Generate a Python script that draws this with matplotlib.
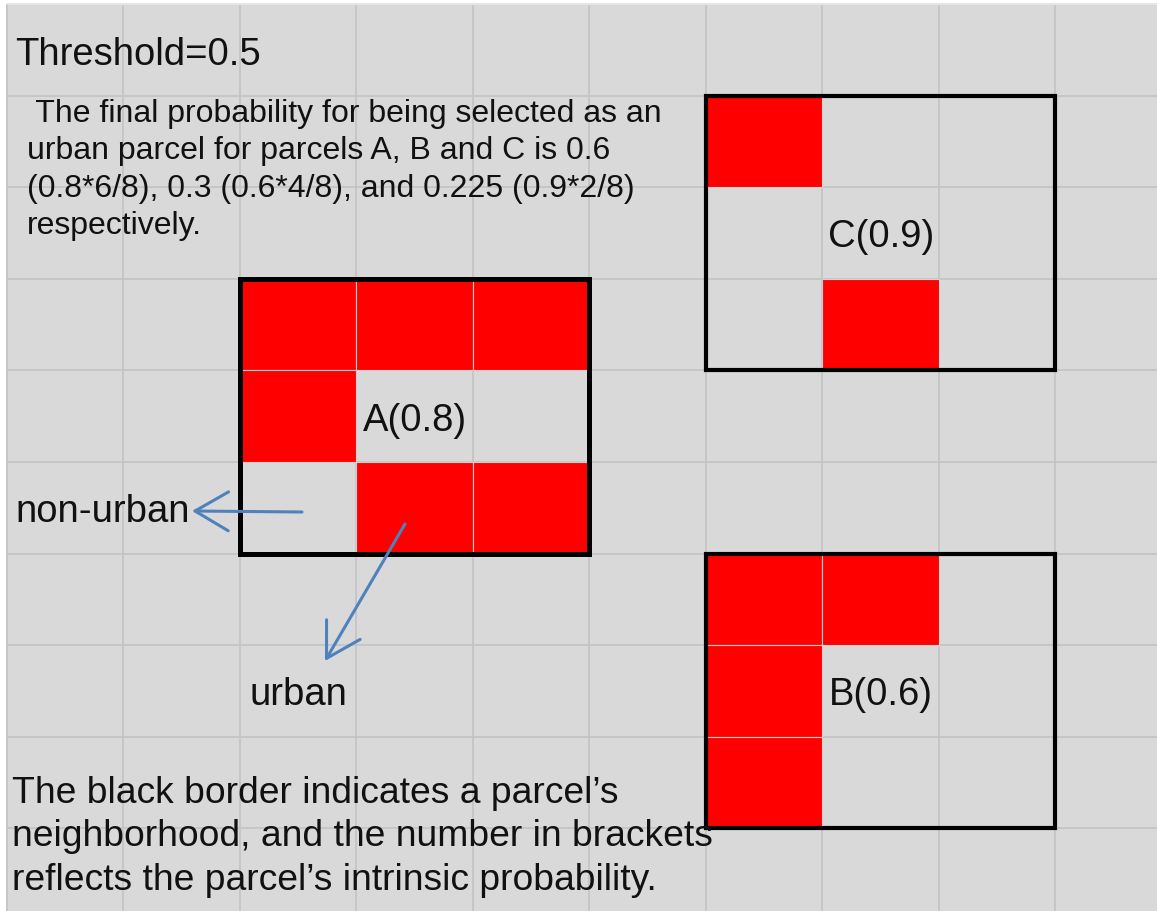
import matplotlib.pyplot as plt
from matplotlib.patches import Rectangle, FancyArrowPatch, ArrowStyle

plt.rcParams['font.family'] = ['Liberation Sans', 'DejaVu Sans']

# --- datos ---
parcels = ['A', 'B', 'C']
intrinsic_prob = [0.8, 0.6, 0.9]
# vecindario 3x3 de cada parcela (1 = urbana), fila por fila de arriba a abajo
neighborhoods = [
    [[1, 1, 1], [1, 0, 0], [0, 1, 1]],
    [[1, 1, 0], [1, 0, 0], [1, 0, 0]],
    [[1, 0, 0], [0, 0, 0], [0, 1, 0]],
]
threshold = 0.5

# celda central de cada parcela (columna, fila) en la rejilla
centers = [(3, 4), (7, 7), (7, 2)]

para_lines = [
    " The final probability for being selected as an",
    "urban parcel for parcels A, B and C is 0.6",
    "(0.8*6/8), 0.3 (0.6*4/8), and 0.225 (0.9*2/8)",
    "respectively.",
]
note_lines = [
    "The black border indicates a parcel\u2019s",
    "neighborhood, and the number in brackets",
    "reflects the parcel\u2019s intrinsic probability.",
]

# --- escala pixel -> rejilla ---
CW, CH = 116.5, 91.6   # tamano de celda en pixeles
X0, Y0 = 7, 5           # esquina de la rejilla


def g(px, py):
    return (px - X0) / CW, (py - Y0) / CH


fig = plt.figure(figsize=(11.57, 9.12), dpi=100)
ax = fig.add_axes([0, 0, 1, 1])
ax.set_xlim(-X0 / CW, (1157 - X0) / CW)
ax.set_ylim((912 - Y0) / CH, -Y0 / CH)
ax.axis('off')

ax.add_patch(Rectangle((0, 0), 12, 12, facecolor='#d9d9d9', edgecolor='none', zorder=0))
ax.vlines(range(0, 11), 0, 12, color='#c4c4c4', lw=1.3, zorder=1)
ax.hlines(range(1, 11), 0, 12, color='#c4c4c4', lw=1.3, zorder=1)
ax.hlines(0, 0, 12, color='#e6e6e6', lw=1.5, zorder=1)

text_kw = dict(color='#111111')

for name, p, nb, (cx, cy) in zip(parcels, intrinsic_prob, neighborhoods, centers):
    for r in range(3):
        for c in range(3):
            if nb[r][c]:
                ax.add_patch(Rectangle((cx - 1 + c, cy - 1 + r), 1, 1, facecolor='#ff0000',
                                       edgecolor='#d2d2d2', lw=0.8, zorder=2))
    lw = 3.6 if name == 'A' else 3.0
    ax.add_patch(Rectangle((cx - 1, cy - 1), 3, 3, facecolor='none', edgecolor='black',
                           lw=lw, zorder=4, joinstyle='miter'))
    ax.text(cx + 0.5, cy + 0.5 + 13.5 / CH, f"{name}({p})", fontsize=27.5,
            ha='center', va='baseline', zorder=5, **text_kw)

ax.text(*g(15, 65), f"Threshold={threshold}", fontsize=27.5, va='baseline', **text_kw)

for i, line in enumerate(para_lines):
    ax.text(*g(27, 122 + 37.5 * i), line, fontsize=23, va='baseline', **text_kw)

for i, line in enumerate(note_lines):
    ax.text(*g(12, 803 + 43.5 * i), line, fontsize=26.8, va='baseline', zorder=5, **text_kw)

ax.text(*g(15, 522), "non-urban", fontsize=27.5, va='baseline', **text_kw)
ax.text(*g(250, 705), "urban", fontsize=27.5, va='baseline', **text_kw)

arrow_style = ArrowStyle('->', head_length=24, head_width=14)
for start, end in [(g(302, 513), g(192, 512)), (g(405, 525), g(325, 662))]:
    ax.add_patch(FancyArrowPatch(start, end, arrowstyle=arrow_style, mutation_scale=1,
                                 color='#4f81bd', lw=2.2, shrinkA=0, shrinkB=0, zorder=6))

fig.savefig('out.png', dpi=100, facecolor='white')
